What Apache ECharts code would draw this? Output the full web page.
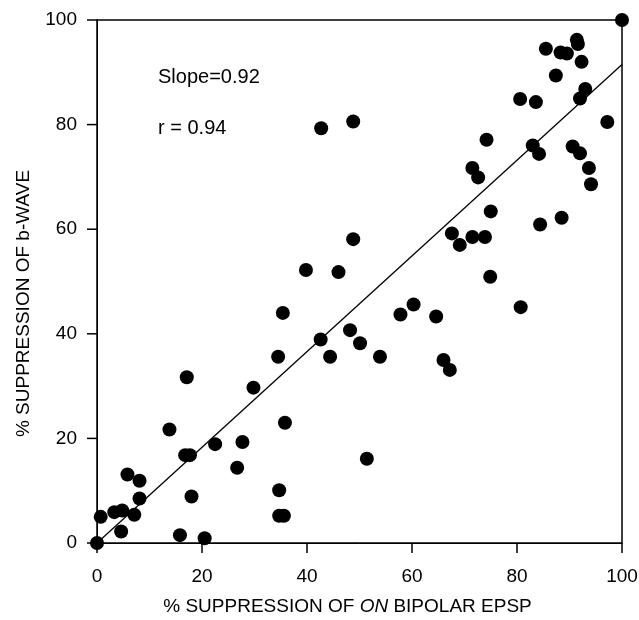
<!DOCTYPE html>
<html><head><meta charset="utf-8">
<script src="https://cdn.jsdelivr.net/npm/echarts@6/dist/echarts.min.js"></script>
<style>html,body{margin:0;padding:0;background:#fff}#c{width:639px;height:620px}</style>
</head><body><div id="c"></div>
<script>
const xTicks = [0, 20, 40, 60, 80, 100];
const yTicks = [0, 20, 40, 60, 80, 100];
const epspSuppression = [0, 0.7, 3.3, 4.8, 7.1, 4.6, 5.8, 8.1, 8.1, 13.8, 17.1, 15.8, 20.5, 16.8, 17.7, 18.0, 22.5, 26.7, 27.7, 29.8, 34.5, 35.4, 35.8, 34.7, 34.7, 35.6, 42.6, 44.4, 48.2, 50.1, 53.9, 57.8, 60.3, 64.6, 66.0, 67.2, 80.7, 51.4, 100, 85.5, 91.4, 91.6, 88.3, 89.5, 92.3, 87.4, 93.0, 92.0, 80.6, 83.6, 97.2, 48.8, 74.2, 83.0, 84.2, 90.6, 92.0, 93.7, 94.1, 71.5, 72.6, 75.0, 67.6, 69.1, 71.5, 73.9, 84.4, 88.5, 74.9, 48.8, 42.7, 39.8, 46.0];
const bwaveSuppression = [0, 5.0, 5.9, 6.2, 5.4, 2.2, 13.1, 11.9, 8.5, 21.7, 31.7, 1.5, 0.9, 16.8, 16.8, 8.9, 18.9, 14.4, 19.3, 29.7, 35.6, 44.0, 23.0, 10.1, 5.2, 5.2, 38.9, 35.6, 40.7, 38.2, 35.6, 43.7, 45.6, 43.3, 35.0, 33.1, 45.1, 16.1, 100, 94.5, 96.2, 95.4, 93.8, 93.6, 92.0, 89.4, 86.8, 85.0, 84.9, 84.3, 80.5, 80.6, 77.1, 76.0, 74.4, 75.8, 74.5, 71.7, 68.6, 71.7, 69.9, 63.4, 59.2, 57.0, 58.5, 58.5, 60.9, 62.2, 50.9, 58.1, 79.3, 52.2, 51.8];
const fitX = [0, 100];
const fitY = [0, 91.5];
const annotations = ["Slope=0.92", "r = 0.94"];

const points = epspSuppression.map((x, i) => [x, bwaveSuppression[i]]);
const fitLine = fitX.map((x, i) => [x, fitY[i]]);
const font = 'Liberation Sans, Arial, sans-serif';

const chart = echarts.init(document.getElementById('c'));
function axis(ticks, margin, extra) {
  return Object.assign({
    type: 'value', min: 0, max: 100, interval: 20,
    axisLine: { show: true, onZero: false, lineStyle: { color: '#000', width: 1 } },
    axisTick: { show: false },
    minorTick: { show: false },
    splitLine: { show: false },
    axisLabel: { show: true, color: '#000', fontSize: 19, fontFamily: font, margin: margin,
      formatter: v => ticks.includes(v) ? String(v) : '' }
  }, extra);
}
chart.setOption({
  animation: false,
  grid: { left: 97, right: 17, top: 20, bottom: 77, show: true, borderColor: '#000', borderWidth: 1.5,
          containLabel: false, outerBoundsMode: 'none' },
  xAxis: axis(xTicks, 24, {
    name: '{n|% SUPPRESSION OF }{i|ON}{n| BIPOLAR EPSP}',
    nameLocation: 'middle', nameGap: 54,
    nameTextStyle: { padding: [0, 24, 0, 0], rich: {
      n: { fontSize: 19, fontFamily: font, color: '#000' },
      i: { fontSize: 19, fontFamily: font, color: '#000', fontStyle: 'italic' }
    } }
  }),
  yAxis: axis(yTicks, 20, {
    name: '% SUPPRESSION OF b-WAVE',
    nameLocation: 'middle', nameGap: 64,
    nameTextStyle: { fontSize: 19, fontFamily: font, color: '#000', padding: [0, 44, 0, 0] }
  }),
  series: [
    { type: 'line', data: fitLine, symbol: 'none', lineStyle: { color: '#000', width: 1.3 }, z: 2 },
    { type: 'scatter', data: points, symbol: 'circle', symbolSize: 14, itemStyle: { color: '#000', opacity: 1 }, z: 3, clip: false }
  ]
});

// outward tick marks, positioned through the axes' own scales
const tickLen = 10;
const graphics = [
  { type: 'text', left: 158, top: 67, style: { text: annotations[0], fontSize: 20, fontFamily: font, fill: '#000' } },
  { type: 'text', left: 158, top: 118, style: { text: annotations[1], fontSize: 20, fontFamily: font, fill: '#000' } }
];
xTicks.forEach(v => {
  const p = chart.convertToPixel({ gridIndex: 0 }, [v, 0]);
  graphics.push({ type: 'line', shape: { x1: p[0], y1: p[1], x2: p[0], y2: p[1] + tickLen }, style: { stroke: '#000', lineWidth: 1.5 }, z: 100, silent: true });
});
yTicks.forEach(v => {
  const p = chart.convertToPixel({ gridIndex: 0 }, [0, v]);
  graphics.push({ type: 'line', shape: { x1: p[0] - tickLen, y1: p[1], x2: p[0], y2: p[1] }, style: { stroke: '#000', lineWidth: 1.5 }, z: 100, silent: true });
});
chart.setOption({ graphic: graphics });
</script></body></html>
